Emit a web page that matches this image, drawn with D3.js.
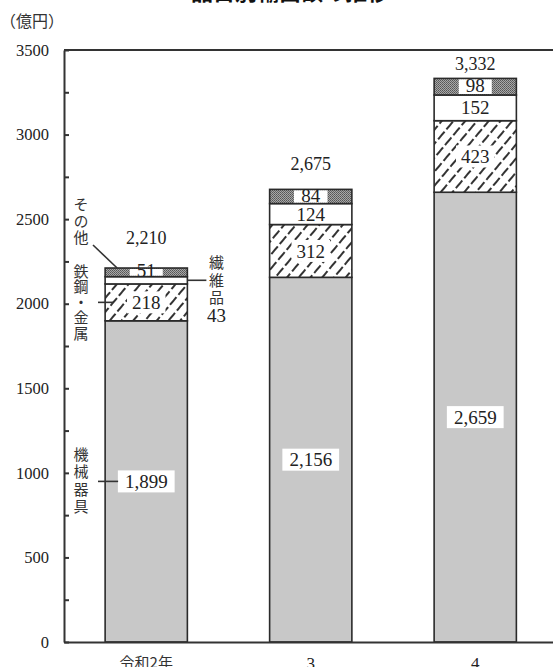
<!DOCTYPE html>
<html>
<head>
<meta charset="utf-8">
<script src="https://cdn.jsdelivr.net/npm/d3@7"></script>
<style>
body { margin: 0; background: #fff; }
svg { display: block; }
.num { font-family: "Liberation Serif", "DejaVu Serif", serif; fill: #222; }
.jp { font-family: "Noto Sans CJK JP", sans-serif; fill: #333; }
.vert { writing-mode: vertical-rl; text-orientation: upright; }
</style>
</head>
<body>
<div id="chart"></div>
<script>
// data
var years = ["令和2年", "3", "4"];
var machinery = [1899, 2156, 2659];
var steel = [218, 312, 423];
var textiles = [43, 124, 152];
var others = [51, 84, 98];
var totals = [2210, 2675, 3332];
var yTicks = [0, 500, 1000, 1500, 2000, 2500, 3000, 3500];
var yMinor = [250, 750, 1250, 1750, 2250, 2750, 3250];
var seriesNames = ["機械器具", "鉄鋼・金属", "繊維品", "その他"];
var unitLabel = "（億円）";
var title = "品目別輸出額の推移";

var mrg = {top: 50, left: 64},
    W = 553, H = 667,
    plotW = 493.5, plotH = 592;

var keys = ["machinery", "steel", "textiles", "others"];
var rows = years.map(function (yr, i) {
  return {year: yr, machinery: machinery[i], steel: steel[i], textiles: textiles[i], others: others[i]};
});
var stacked = d3.stack().keys(keys)(rows);

var svg = d3.select("#chart").append("svg")
  .attr("width", W).attr("height", H);

var defs = svg.append("defs");
var hatch = defs.append("pattern").attr("id", "hatch")
  .attr("patternUnits", "userSpaceOnUse")
  .attr("width", 9).attr("height", 13)
  .attr("patternTransform", "rotate(40)");
hatch.append("rect").attr("width", 9).attr("height", 13).attr("fill", "#fff");
hatch.append("line").attr("x1", 2).attr("y1", 0).attr("x2", 2).attr("y2", 13)
  .attr("stroke", "#333").attr("stroke-width", 2).attr("stroke-dasharray", "10,3");

var dots = defs.append("pattern").attr("id", "dots")
  .attr("patternUnits", "userSpaceOnUse")
  .attr("width", 2).attr("height", 2);
dots.append("rect").attr("width", 2).attr("height", 2).attr("fill", "#a8a8a8");
dots.append("rect").attr("width", 1).attr("height", 1).attr("fill", "#555");
dots.append("rect").attr("x", 1).attr("y", 1).attr("width", 1).attr("height", 1).attr("fill", "#666");

var fills = {machinery: "#c8c8c8", steel: "url(#hatch)", textiles: "#fff", others: "url(#dots)"};

// title (cut off at top in the reference)
svg.append("text").attr("class", "jp")
  .attr("x", 290).attr("y", -0.5)
  .attr("text-anchor", "middle")
  .style("font-size", "22px").style("font-weight", "bold").style("fill", "#111")
  .text(title);

svg.append("text").attr("class", "jp")
  .attr("x", 0).attr("y", 27)
  .style("font-size", "16px")
  .text(unitLabel);

var chart = svg.append("g").attr("transform", `translate(${mrg.left}, ${mrg.top})`);

var xScale = d3.scaleBand().domain(years).range([0, plotW])
  .paddingInner(0.5).paddingOuter(0.25);
var yScale = d3.scaleLinear().domain([0, 3500]).range([plotH, 0]);

// bars
chart.selectAll("g.series")
  .data(stacked)
  .enter().append("g")
  .attr("class", "series")
  .attr("fill", function (d) { return fills[d.key]; })
  .selectAll("rect")
  .data(function (d) { return d; })
  .enter().append("rect")
  .attr("x", function (d) { return xScale(d.data.year); })
  .attr("y", function (d) { return yScale(d[1]); })
  .attr("height", function (d) { return yScale(d[0]) - yScale(d[1]); })
  .attr("width", xScale.bandwidth())
  .attr("stroke", "#2a2a2a")
  .attr("stroke-width", 1.6);

// frame
chart.append("line").attr("x1", 0).attr("x2", plotW).attr("y1", 0).attr("y2", 0)
  .attr("stroke", "#333").attr("stroke-width", 2);
chart.append("line").attr("x1", plotW).attr("x2", plotW).attr("y1", 0).attr("y2", plotH)
  .attr("stroke", "#333").attr("stroke-width", 2);

// y axis
var yAxis = chart.append("g")
  .call(d3.axisLeft(yScale).tickValues(yTicks).tickSizeInner(-5).tickSizeOuter(0)
    .tickPadding(15).tickFormat(d3.format("d")));
chart.append("g")
  .call(d3.axisLeft(yScale).tickValues(yMinor).tickSizeInner(-5).tickSizeOuter(0).tickFormat(""))
  .select(".domain").remove();
chart.selectAll(".tick line").attr("stroke", "#333").attr("stroke-width", 2);
yAxis.select(".domain").attr("stroke", "#333").attr("stroke-width", 2);
yAxis.selectAll("text").attr("class", "num").style("font-size", "16.5px");

// x axis
var xAxis = chart.append("g")
  .attr("transform", `translate(0, ${plotH})`)
  .call(d3.axisBottom(xScale).tickSize(0).tickPadding(15));
xAxis.select(".domain").attr("stroke", "#333").attr("stroke-width", 2);
xAxis.selectAll("text")
  .attr("class", function (d) { return /^\d+$/.test(d) ? "num" : "jp"; })
  .style("font-size", function (d) { return /^\d+$/.test(d) ? "17px" : "15px"; });

// value labels inside bars
var fmt = d3.format(",");
var labels = chart.append("g");
stacked.forEach(function (s) {
  s.forEach(function (d, i) {
    if (s.key === "textiles" && i === 0) return;
    var cx = xScale(d.data.year) + xScale.bandwidth() / 2;
    var y0 = yScale(d[0]), y1 = yScale(d[1]);
    var cy = (y0 + y1) / 2;
    if (s.key === "others") cy -= 1.5;
    var t = labels.append("text").attr("class", "num")
      .attr("x", cx).attr("y", cy).attr("dy", "0.35em")
      .attr("text-anchor", "middle")
      .style("font-size", "19px")
      .text(fmt(d.data[s.key]));
    var bb = t.node().getBBox();
    if (s.key === "others") {
      labels.insert("rect", function () { return t.node(); })
        .attr("x", cx - bb.width / 2 - 7).attr("y", y1 + 1)
        .attr("width", bb.width + 14).attr("height", y0 - y1 - 2)
        .attr("fill", "#fff");
    } else if (s.key !== "textiles") {
      var padX = s.key === "machinery" ? 7 : 5;
      labels.insert("rect", function () { return t.node(); })
        .attr("x", cx - bb.width / 2 - padX).attr("y", cy - 11)
        .attr("width", bb.width + padX * 2).attr("height", 22)
        .attr("fill", "#fff");
    }
  });
});

// totals above bars
var totalGap = [30, 26, 15];
years.forEach(function (yr, i) {
  chart.append("text").attr("class", "num")
    .attr("x", xScale(yr) + xScale.bandwidth() / 2)
    .attr("y", yScale(totals[i]) - totalGap[i]).attr("dy", "0.35em")
    .attr("text-anchor", "middle")
    .style("font-size", "18px")
    .text(fmt(totals[i]));
});

// series labels beside first bar (vertical text)
function vtext(str, cx, cy, step) {
  return chart.append("text")
    .attr("class", "jp vert")
    .attr("x", cx).attr("y", cy)
    .attr("text-anchor", "middle")
    .style("font-size", "15px")
    .style("letter-spacing", (step - 15) + "px")
    .text(str);
}
function leader(x1, y1, x2, y2) {
  chart.append("line").attr("x1", x1).attr("y1", y1).attr("x2", x2).attr("y2", y2)
    .attr("stroke", "#333").attr("stroke-width", 1.6);
}

var b0 = xScale(years[0]), b1 = b0 + xScale.bandwidth();
var lx = 81 - mrg.left;
var mMid = yScale(machinery[0] / 2);
vtext(seriesNames[0], lx, mMid, 17.5);
leader(98 - mrg.left, mMid, b0 + 13, mMid);

var sMid = yScale(machinery[0] + steel[0] / 2);
vtext(seriesNames[1], lx, sMid, 15.5);
leader(98 - mrg.left, sMid, b0 + 8, sMid);

var tMid = yScale(machinery[0] + steel[0] + textiles[0] / 2);
vtext(seriesNames[2], b1 + 29, tMid + 1, 17.5);
chart.append("text").attr("class", "num")
  .attr("x", b1 + 29).attr("y", tMid + 35).attr("dy", "0.35em")
  .attr("text-anchor", "middle").style("font-size", "19px")
  .text(fmt(textiles[0]));
leader(b1, tMid, b1 + 19, tMid);

var top0 = yScale(machinery[0] + steel[0] + textiles[0] + others[0]);
vtext(seriesNames[3], lx, top0 - 46, 16.5);
leader(93 - mrg.left, top0 - 23, b0 + 12, top0);
</script>
</body>
</html>
